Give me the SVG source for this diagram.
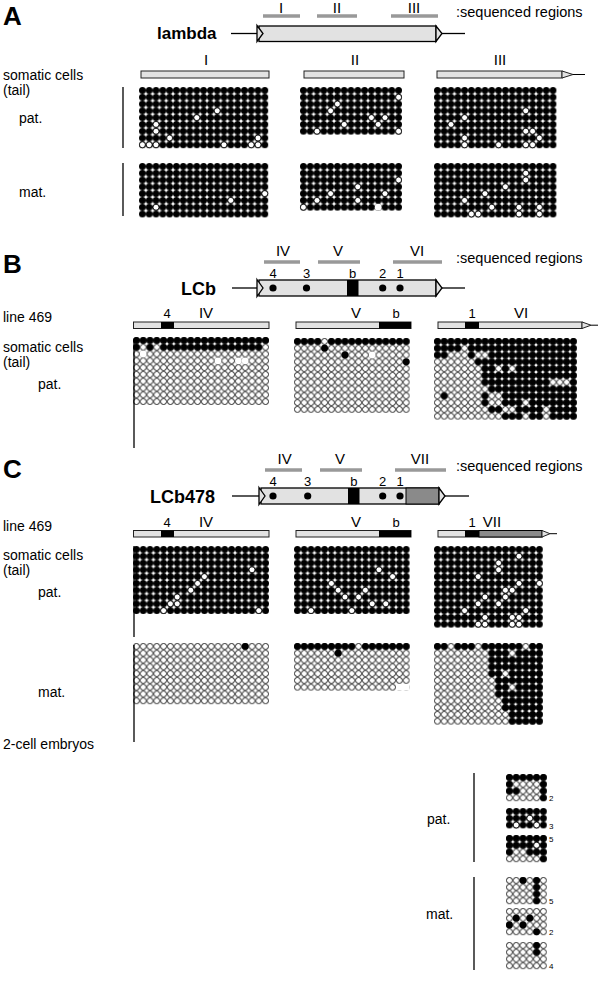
<svg xmlns="http://www.w3.org/2000/svg" width="598" height="984" viewBox="0 0 598 984">
<style>
text{font-family:"Liberation Sans",Arial,sans-serif;fill:#000}
.pl{font-size:26px;font-weight:bold}
.gn{font-size:18px;font-weight:bold}
.lb{font-size:14px}
.rn{font-size:15px;text-anchor:middle}
.nm{font-size:13px;text-anchor:middle}
.sq{font-size:14.5px}
.sm{font-size:8px}
.sr{stroke:#999;stroke-width:3.5}
.ln{stroke:#000;stroke-width:1.3;fill:none}
.box{fill:#e2e2e2;stroke:#000;stroke-width:1.3}
.bar{fill:#e2e2e2;stroke:#222;stroke-width:1}
.blk{fill:#000}
.gry{fill:#8a8a8a;stroke:#000;stroke-width:1}
</style>
<defs>
<pattern id="pf" width="10" height="10" patternUnits="userSpaceOnUse" patternTransform="scale(.1)"><circle cx="5" cy="5" r="5"/></pattern>
<pattern id="po" width="10" height="10" patternUnits="userSpaceOnUse" patternTransform="scale(.1)"><rect width="10" height="10" fill="#fff"/><circle cx="5" cy="5" r="4.35" fill="#fff" stroke="#000" stroke-width="1.2"/></pattern>
<circle id="o" cx=".5" cy=".5" r=".435" fill="#fff" stroke="#000" stroke-width=".12"/>
<circle id="f" cx=".5" cy=".5" r=".5"/>
<circle id="m" cx=".5" cy=".5" r=".5" fill="#fff"/>
</defs>

<!-- PANEL A -->
<g id="A-head">
<text x="3" y="25" class="pl">A</text>
<line x1="263" y1="16" x2="300" y2="16" class="sr"/><text x="281" y="13" class="rn">I</text>
<line x1="317" y1="16" x2="357" y2="16" class="sr"/><text x="337" y="13" class="rn">II</text>
<line x1="391" y1="16" x2="438" y2="16" class="sr"/><text x="414" y="13" class="rn">III</text>
<text x="456" y="17" class="sq">:sequenced regions</text>
</g>
<g id="A-gene">
<text x="157" y="39" class="gn" style="font-size:17px">lambda</text>
<line x1="231" y1="33.5" x2="259" y2="33.5" class="ln"/>
<rect x="259" y="26" width="177" height="15.5" class="box"/>
<polygon points="257,25.5 263,33.5 257,41.5" class="box"/>
<polygon points="436,26 442,33.5 436,41.5" class="box"/>
<line x1="442" y1="33.5" x2="465" y2="33.5" class="ln"/>
</g>
<g id="A-sub">
<text x="206" y="65" class="rn">I</text><rect x="141" y="71" width="128" height="7" class="bar"/>
<text x="355" y="65" class="rn">II</text><rect x="304" y="71" width="100" height="7" class="bar"/>
<text x="500" y="65" class="rn">III</text><rect x="437" y="71" width="125" height="7" class="bar"/>
<polygon points="562,71 573,74.5 562,78" class="bar"/><line x1="573" y1="74.5" x2="585" y2="74.5" class="ln" style="stroke-width:1"/>
</g>
<text x="3" y="80" class="lb">somatic cells</text>
<text x="3" y="95" class="lb">(tail)</text>
<text x="19" y="123" class="lb">pat.</text>
<text x="19" y="197" class="lb">mat.</text>

<g id="A-pat-I" transform="translate(139 87) scale(6.8)"><rect width="19" height="9" fill="url(#pf)"/>
<use href="#o" x="11" y="3"/><use href="#o" x="8" y="4"/><use href="#o" x="2" y="5"/><use href="#o" x="2" y="6"/><use href="#o" x="4" y="7"/><use href="#o" x="17" y="7"/><use href="#o" x="0" y="8"/><use href="#o" x="1" y="8"/><use href="#o" x="2" y="8"/><use href="#o" x="12" y="8"/><use href="#o" x="16" y="8"/><use href="#o" x="17" y="8"/></g>
<g id="A-mat-I" transform="translate(139 163) scale(6.8)"><rect width="19" height="8" fill="url(#pf)"/>
<use href="#o" x="18" y="4"/><use href="#o" x="13" y="5"/><use href="#o" x="2" y="6"/></g>
<g id="A-pat-II" transform="translate(300 87) scale(6.8)"><rect width="15" height="7" fill="url(#pf)"/>
<use href="#o" x="14" y="1"/><use href="#o" x="5" y="2"/><use href="#o" x="4" y="3"/><use href="#o" x="10" y="4"/><use href="#o" x="12" y="4"/><use href="#o" x="11" y="5"/><use href="#o" x="6" y="5"/><use href="#o" x="2" y="6"/><use href="#o" x="14" y="6"/></g>
<g id="A-mat-II" transform="translate(300 163) scale(6.8)"><rect width="15" height="7" fill="url(#pf)"/>
<use href="#o" x="14" y="2"/><use href="#o" x="8" y="3"/><use href="#o" x="4" y="4"/><use href="#o" x="12" y="4"/><use href="#o" x="2" y="5"/><use href="#o" x="8" y="5"/><use href="#o" x="0" y="6"/><use href="#m" x="11" y="6"/></g>
<g id="A-pat-III" transform="translate(434 87) scale(6.8)"><rect width="18" height="9" fill="url(#pf)"/>
<use href="#o" x="13" y="3"/><use href="#o" x="4" y="4"/><use href="#o" x="2" y="5"/><use href="#o" x="13" y="6"/><use href="#o" x="14" y="6"/><use href="#o" x="15" y="7"/><use href="#o" x="4" y="7"/><use href="#o" x="4" y="8"/><use href="#o" x="9" y="8"/><use href="#o" x="13" y="8"/><use href="#o" x="14" y="8"/></g>
<g id="A-mat-III" transform="translate(434 163) scale(6.8)"><rect width="18" height="8" fill="url(#pf)"/>
<use href="#o" x="13" y="1"/><use href="#o" x="13" y="2"/><use href="#o" x="10" y="3"/><use href="#o" x="7" y="4"/><use href="#o" x="4" y="5"/><use href="#o" x="8" y="6"/><use href="#o" x="12" y="6"/><use href="#o" x="15" y="6"/><use href="#o" x="5" y="7"/><use href="#o" x="6" y="7"/><use href="#o" x="12" y="7"/><use href="#o" x="15" y="7"/></g>

<!-- PANEL B -->
<g id="B-head">
<text x="3" y="273" class="pl">B</text>
<line x1="264" y1="262" x2="300" y2="262" class="sr"/><text x="283" y="256" class="rn">IV</text>
<line x1="318" y1="262" x2="360" y2="262" class="sr"/><text x="338" y="256" class="rn">V</text>
<line x1="393" y1="262" x2="442" y2="262" class="sr"/><text x="417" y="256" class="rn">VI</text>
<text x="456" y="263" class="sq">:sequenced regions</text>
</g>
<g id="B-gene">
<text x="273" y="278" class="nm">4</text><text x="306.5" y="278" class="nm">3</text><text x="352.7" y="278" class="nm">b</text><text x="382.7" y="278" class="nm">2</text><text x="400" y="278" class="nm">1</text>
<text x="181" y="295" class="gn">LCb</text>
<line x1="232" y1="288" x2="259" y2="288" class="ln"/>
<rect x="259" y="280" width="177" height="16" class="box"/>
<polygon points="257,279.5 263,288 257,296.5" class="box"/>
<polygon points="436,280 442,288 436,296" class="box"/>
<line x1="442" y1="288" x2="465" y2="288" class="ln"/>
<rect x="347" y="280" width="11.5" height="16" class="blk"/>
<circle cx="273" cy="288" r="3.6"/><circle cx="306.5" cy="288" r="3.6"/><circle cx="382.7" cy="288" r="3.6"/><circle cx="400" cy="288" r="3.6"/>
</g>
<g id="B-sub">
<text x="3" y="322" class="lb">line 469</text>
<text x="167" y="318" class="nm">4</text><text x="206" y="318" class="rn">IV</text>
<rect x="133.5" y="322" width="135.5" height="6.5" class="bar"/><rect x="161" y="322" width="13" height="6.5" class="blk"/>
<text x="356" y="318" class="rn">V</text><text x="396" y="318" class="nm">b</text>
<rect x="296" y="322" width="115" height="6.5" class="bar"/><rect x="379" y="322" width="32" height="6.5" class="blk"/>
<text x="472" y="318" class="nm">1</text><text x="521" y="318" class="rn">VI</text>
<rect x="438" y="322" width="144" height="6.5" class="bar"/><rect x="465" y="322" width="14" height="6.5" class="blk"/>
<polygon points="582,322 591,325.2 582,328.5" class="bar"/><line x1="591" y1="325.2" x2="598" y2="325.2" class="ln" style="stroke-width:1"/>
</g>
<text x="3" y="352" class="lb">somatic cells</text>
<text x="3" y="367" class="lb">(tail)</text>
<text x="38" y="389" class="lb">pat.</text>

<g id="B-pat-IV" transform="translate(133 337) scale(6.8)"><rect width="20" height="10" fill="url(#po)"/>
<rect width="20" height="1" fill="url(#pf)"/><rect y="1" width="1" height="1" fill="url(#pf)"/><rect x="2" y="1" width="1" height="1" fill="url(#pf)"/><rect x="4" y="1" width="15" height="1" fill="url(#pf)"/>
<use href="#m" x="1" y="2"/><use href="#m" x="12" y="3"/><use href="#m" x="15" y="3"/><use href="#m" x="16" y="3"/></g>
<g id="B-pat-V" transform="translate(294 338) scale(6.8)"><rect width="17" height="11" fill="url(#po)"/>
<rect width="4" height="1" fill="url(#pf)"/><rect x="5" width="12" height="1" fill="url(#pf)"/>
<use href="#f" x="4" y="1"/><use href="#f" x="7" y="2"/><use href="#f" x="16" y="3"/><use href="#m" x="11" y="2"/></g>
<g id="B-pat-VI" transform="translate(434 338) scale(6.8)"><rect width="21" height="12" fill="url(#po)"/>
<rect width="21" height="1" fill="url(#pf)"/>
<rect y="1" width="4" height="1" fill="url(#pf)"/><rect x="5" y="1" width="16" height="1" fill="url(#pf)"/>
<rect y="2" width="2" height="1" fill="url(#pf)"/><rect x="5" y="2" width="1" height="1" fill="url(#pf)"/><rect x="8" y="2" width="13" height="1" fill="url(#pf)"/>
<rect x="6" y="3" width="15" height="1" fill="url(#pf)"/>
<rect x="7" y="4" width="2" height="1" fill="url(#pf)"/><rect x="10" y="4" width="1" height="1" fill="url(#pf)"/><rect x="12" y="4" width="9" height="1" fill="url(#pf)"/>
<rect x="7" y="5" width="14" height="1" fill="url(#pf)"/>
<rect x="7" y="6" width="10" height="1" fill="url(#pf)"/><rect x="20" y="6" width="1" height="1" fill="url(#pf)"/>
<rect x="8" y="7" width="13" height="1" fill="url(#pf)"/>
<rect x="1" y="8" width="1" height="1" fill="url(#pf)"/><rect x="7" y="8" width="1" height="1" fill="url(#pf)"/><rect x="10" y="8" width="11" height="1" fill="url(#pf)"/>
<rect x="7" y="9" width="1" height="1" fill="url(#pf)"/><rect x="10" y="9" width="3" height="1" fill="url(#pf)"/><rect x="14" y="9" width="7" height="1" fill="url(#pf)"/>
<rect x="8" y="10" width="2" height="1" fill="url(#pf)"/><rect x="12" y="10" width="4" height="1" fill="url(#pf)"/><rect x="17" y="10" width="4" height="1" fill="url(#pf)"/>
<rect x="10" y="11" width="3" height="1" fill="url(#pf)"/><rect x="14" y="11" width="2" height="1" fill="url(#pf)"/><rect x="17" y="11" width="4" height="1" fill="url(#pf)"/>
</g>

<!-- PANEL C -->
<g id="C-head">
<text x="3" y="478" class="pl">C</text>
<line x1="265" y1="470" x2="302" y2="470" class="sr"/><text x="284.6" y="464" class="rn">IV</text>
<line x1="320" y1="470" x2="362" y2="470" class="sr"/><text x="340" y="464" class="rn">V</text>
<line x1="395" y1="470" x2="446" y2="470" class="sr"/><text x="420" y="464" class="rn">VII</text>
<text x="456" y="471" class="sq">:sequenced regions</text>
</g>
<g id="C-gene">
<text x="273" y="486" class="nm">4</text><text x="307.7" y="486" class="nm">3</text><text x="353.8" y="486" class="nm">b</text><text x="382.7" y="486" class="nm">2</text><text x="400" y="486" class="nm">1</text>
<text x="150" y="503" class="gn">LCb478</text>
<line x1="232" y1="496" x2="261" y2="496" class="ln"/>
<rect x="261" y="488" width="178" height="16" class="box"/>
<rect x="406" y="488" width="33" height="16" class="gry"/>
<polygon points="259,487.5 265,496 259,504.5" class="box"/>
<polygon points="439,488 445,496 439,504" class="box"/>
<line x1="445" y1="496" x2="469" y2="496" class="ln"/>
<rect x="348" y="488" width="11.5" height="16" class="blk"/>
<circle cx="273" cy="496" r="3.6"/><circle cx="307.7" cy="496" r="3.6"/><circle cx="382.7" cy="496" r="3.6"/><circle cx="400" cy="496" r="3.6"/>
</g>
<g id="C-sub">
<text x="3" y="531" class="lb">line 469</text>
<text x="167" y="527" class="nm">4</text><text x="206" y="527" class="rn">IV</text>
<rect x="133.5" y="530.5" width="135.5" height="6.5" class="bar"/><rect x="161" y="530.5" width="13" height="6.5" class="blk"/>
<text x="356" y="527" class="rn">V</text><text x="396" y="527" class="nm">b</text>
<rect x="296" y="530.5" width="115" height="6.5" class="bar"/><rect x="379" y="530.5" width="32" height="6.5" class="blk"/>
<text x="472" y="527" class="nm">1</text><text x="492" y="527" class="rn">VII</text>
<rect x="438" y="530.5" width="104" height="6.5" class="bar"/><rect x="465" y="530.5" width="14" height="6.5" class="blk"/><rect x="479" y="530.5" width="63" height="6.5" class="gry"/>
<polygon points="542,530.5 550,533.7 542,537" class="bar"/><line x1="550" y1="533.7" x2="557" y2="533.7" class="ln" style="stroke-width:1"/>
</g>
<text x="3" y="560" class="lb">somatic cells</text>
<text x="3" y="575" class="lb">(tail)</text>
<text x="38" y="597" class="lb">pat.</text>
<text x="38" y="697" class="lb">mat.</text>

<g id="C-pat-IV" transform="translate(133 546) scale(6.8)"><rect width="20" height="10" fill="url(#pf)"/>
<use href="#o" x="17" y="3"/><use href="#o" x="10" y="4"/><use href="#o" x="9" y="5"/><use href="#o" x="8" y="6"/><use href="#o" x="6" y="7"/><use href="#o" x="5" y="8"/><use href="#o" x="6" y="8"/><use href="#o" x="4" y="9"/><use href="#o" x="18" y="9"/></g>
<g id="C-mat-IV" transform="translate(133 643) scale(6.8)"><rect width="20" height="9" fill="url(#po)"/>
<use href="#f" x="16" y="0"/></g>
<g id="C-pat-V" transform="translate(294 546) scale(6.8)"><rect width="17" height="10" fill="url(#pf)"/>
<use href="#o" x="12" y="3"/><use href="#o" x="14" y="4"/><use href="#o" x="5" y="5"/><use href="#o" x="6" y="6"/><use href="#o" x="7" y="7"/><use href="#o" x="9" y="7"/><use href="#o" x="10" y="6"/><use href="#o" x="11" y="8"/><use href="#o" x="13" y="8"/><use href="#o" x="2" y="9"/><use href="#o" x="8" y="9"/></g>
<g id="C-mat-V" transform="translate(294 643) scale(6.8)"><rect width="17" height="7" fill="url(#po)"/>
<rect width="9" height="1" fill="url(#pf)"/><rect x="10" width="7" height="1" fill="url(#pf)"/><use href="#f" x="6" y="1"/><rect x="15" y="6" width="2" height="1" fill="#fff"/></g>
<g id="C-pat-VII" transform="translate(434 546) scale(6.8)"><rect width="16" height="12" fill="url(#pf)"/>
<use href="#o" x="12" y="1"/><use href="#o" x="9" y="2"/><use href="#o" x="9" y="3"/><use href="#o" x="6" y="4"/><use href="#o" x="12" y="5"/><use href="#o" x="15" y="5"/><use href="#o" x="10" y="6"/><use href="#o" x="11" y="6"/><use href="#o" x="10" y="7"/><use href="#o" x="7" y="7"/><use href="#o" x="9" y="8"/><use href="#o" x="6" y="8"/><use href="#o" x="13" y="9"/><use href="#o" x="4" y="9"/><use href="#o" x="12" y="10"/><use href="#o" x="11" y="10"/><use href="#o" x="7" y="10"/><use href="#o" x="6" y="11"/><use href="#o" x="7" y="11"/><use href="#o" x="11" y="11"/><use href="#o" x="12" y="11"/></g>
<g id="C-mat-VII" transform="translate(434 643) scale(6.8)"><rect width="16" height="12" fill="url(#po)"/>
<rect width="2" height="1" fill="url(#pf)"/><rect x="3" width="3" height="1" fill="url(#pf)"/><rect x="7" width="6" height="1" fill="url(#pf)"/><rect x="14" width="2" height="1" fill="url(#pf)"/>
<rect x="8" y="1" width="3" height="1" fill="url(#pf)"/><rect x="12" y="1" width="4" height="1" fill="url(#pf)"/>
<rect x="8" y="2" width="8" height="2" fill="url(#pf)"/>
<rect x="8" y="4" width="2" height="1" fill="url(#pf)"/><rect x="11" y="4" width="5" height="1" fill="url(#pf)"/>
<rect x="9" y="5" width="7" height="1" fill="url(#pf)"/>
<rect x="9" y="6" width="2" height="1" fill="url(#pf)"/><rect x="12" y="6" width="4" height="1" fill="url(#pf)"/>
<rect x="9" y="7" width="7" height="1" fill="url(#pf)"/>
<rect x="10" y="8" width="6" height="2" fill="url(#pf)"/>
<rect x="11" y="10" width="5" height="2" fill="url(#pf)"/>
</g>

<!-- 2-cell embryos -->
<text x="3" y="749" class="lb">2-cell embryos</text>
<text x="427" y="824" class="lb">pat.</text>
<text x="426" y="919" class="lb">mat.</text>
<g id="E-pat-1" transform="translate(506 774) scale(6.8)"><rect width="6" height="4" fill="url(#po)"/>
<rect width="6" height="1" fill="url(#pf)"/><rect y="1" width="1" height="1" fill="url(#pf)"/><rect x="5" y="1" width="1" height="3" fill="url(#pf)"/><rect y="2" width="2" height="1" fill="url(#pf)"/></g>
<text x="549" y="801" class="sm">2</text>
<g id="E-pat-2" transform="translate(506 808) scale(6.8)"><rect width="6" height="3" fill="url(#pf)"/>
<use href="#o" x="3" y="1"/><use href="#o" x="1" y="2"/><use href="#o" x="4" y="2"/></g>
<text x="549" y="829" class="sm">3</text>
<g id="E-pat-3" transform="translate(506 835) scale(6.8)"><rect width="6" height="4" fill="url(#po)"/>
<rect width="6" height="2" fill="url(#pf)"/><rect y="2" width="1" height="1" fill="url(#pf)"/><rect x="3" y="2" width="3" height="1" fill="url(#pf)"/><rect x="5" y="3" width="1" height="1" fill="url(#pf)"/><use href="#o" x="4" y="1"/></g>
<text x="549" y="842" class="sm">5</text>
<g id="E-mat-1" transform="translate(506 877) scale(6.8)"><rect width="6" height="4" fill="url(#po)"/>
<use href="#f" x="2" y="0"/><rect x="4" width="1" height="4" fill="url(#pf)"/></g>
<text x="549" y="904" class="sm">5</text>
<g id="E-mat-2" transform="translate(506 908) scale(6.8)"><rect width="6" height="4" fill="url(#po)"/>
<use href="#f" x="1" y="1"/><use href="#f" x="3" y="1"/><use href="#f" x="0" y="2"/><use href="#f" x="2" y="2"/><use href="#f" x="4" y="3"/></g>
<text x="549" y="935" class="sm">2</text>
<g id="E-mat-3" transform="translate(506 942) scale(6.8)"><rect width="6" height="4" fill="url(#po)"/>
<rect x="4" width="1" height="2" fill="url(#pf)"/></g>
<text x="549" y="969" class="sm">4</text>

<g id="connectors">
<line x1="123" y1="87" x2="123" y2="148" class="ln"/>
<line x1="123" y1="163" x2="123" y2="216" class="ln"/>
<line x1="134" y1="340" x2="134" y2="448" class="ln"/>
<line x1="134" y1="546" x2="134" y2="637" class="ln"/>
<line x1="134" y1="645" x2="134" y2="742" class="ln"/>
<line x1="474" y1="773" x2="474" y2="862" class="ln"/>
<line x1="474" y1="877" x2="474" y2="970" class="ln"/>
</g>
</svg>
